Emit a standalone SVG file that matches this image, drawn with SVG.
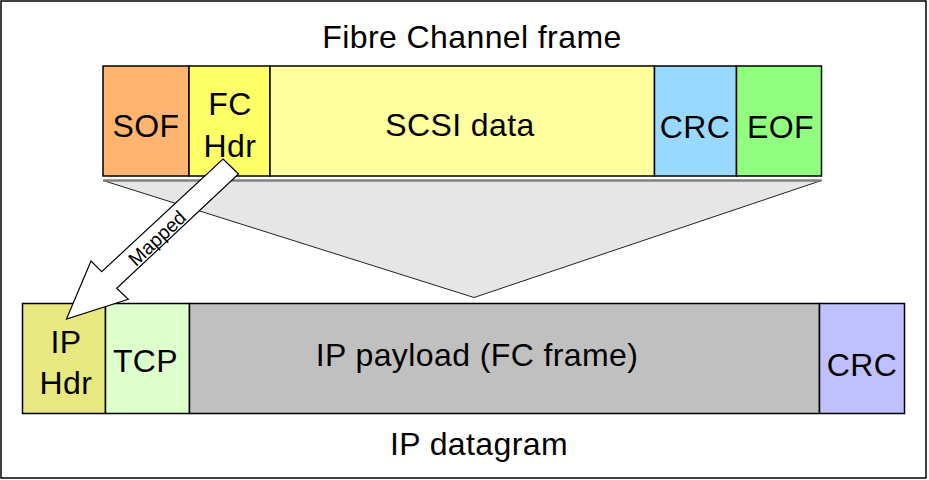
<svg xmlns="http://www.w3.org/2000/svg" width="929" height="480" viewBox="0 0 929 480">
<style>
.box{stroke:#000;stroke-width:1.5}
.t{font-family:"Liberation Sans",Arial,sans-serif;font-size:32px;letter-spacing:0.4px;fill:#000;text-anchor:middle}
.m{font-family:"Liberation Sans",Arial,sans-serif;font-size:19.5px;fill:#000;text-anchor:middle}
</style>
<rect x="0" y="0" width="929" height="480" fill="#fff"/>
<rect x="1" y="1" width="925" height="477" fill="#fff" stroke="#000" stroke-width="1.5"/>
<text class="t" x="472" y="48">Fibre Channel frame</text>
<g id="connectors">
  <g id="expand">
    <polygon points="103,180.5 821.5,180.5 474,297.5" fill="#e6e6e6" stroke="#222" stroke-width="1"/>
    <line x1="103" y1="180.5" x2="821.5" y2="180.5" stroke="#808080" stroke-width="2.5"/>
  </g>
</g>
<g id="fc-frame">
  <g id="sof"><rect class="box" x="103" y="66" width="86" height="110" fill="#FFB570"/><text class="t" x="146" y="137">SOF</text></g>
  <g id="fc-hdr"><rect class="box" x="189" y="66" width="81" height="110" fill="#FFFF66"/><text class="t" x="230" y="115">FC</text><text class="t" x="230" y="157">Hdr</text></g>
  <g id="scsi"><rect class="box" x="270" y="66" width="384.5" height="110" fill="#FFFFA0"/><text class="t" x="460" y="136">SCSI data</text></g>
  <g id="fc-crc"><rect class="box" x="654.5" y="66" width="82" height="110" fill="#99D9FF"/><text class="t" x="695" y="137.5">CRC</text></g>
  <g id="eof"><rect class="box" x="736.5" y="66" width="85" height="110" fill="#90FF80"/><text class="t" x="780.5" y="137.5">EOF</text></g>
</g>
<g id="ip-datagram">
  <g id="ip-hdr"><rect class="box" x="22.5" y="303.5" width="83" height="110" fill="#E8E880"/><text class="t" x="66" y="353">IP</text><text class="t" x="66" y="394">Hdr</text></g>
  <g id="tcp"><rect class="box" x="105.5" y="303.5" width="84" height="110" fill="#DDFFCC"/><text class="t" x="145.5" y="372">TCP</text></g>
  <g id="payload"><rect class="box" x="189.5" y="303.5" width="630" height="110" fill="#C0C0C0"/><text class="t" x="477" y="366">IP payload (FC frame)</text></g>
  <g id="ip-crc"><rect class="box" x="819.5" y="303.5" width="85" height="110" fill="#C0C0FF"/><text class="t" x="862" y="376">CRC</text></g>
</g>
<text class="t" x="479" y="455">IP datagram</text>
<g id="connectors-arrow">
  <g id="mapped">
    <polygon points="223,159 238.5,174 116.7,288.3 128.3,299.3 66.5,319 91,261 101.7,271.7" fill="#fff" stroke="#000" stroke-width="1.2" stroke-linejoin="miter"/>
    <text class="m" transform="translate(157,238) rotate(-43)" x="0" y="7">Mapped</text>
  </g>
</g>
</svg>
